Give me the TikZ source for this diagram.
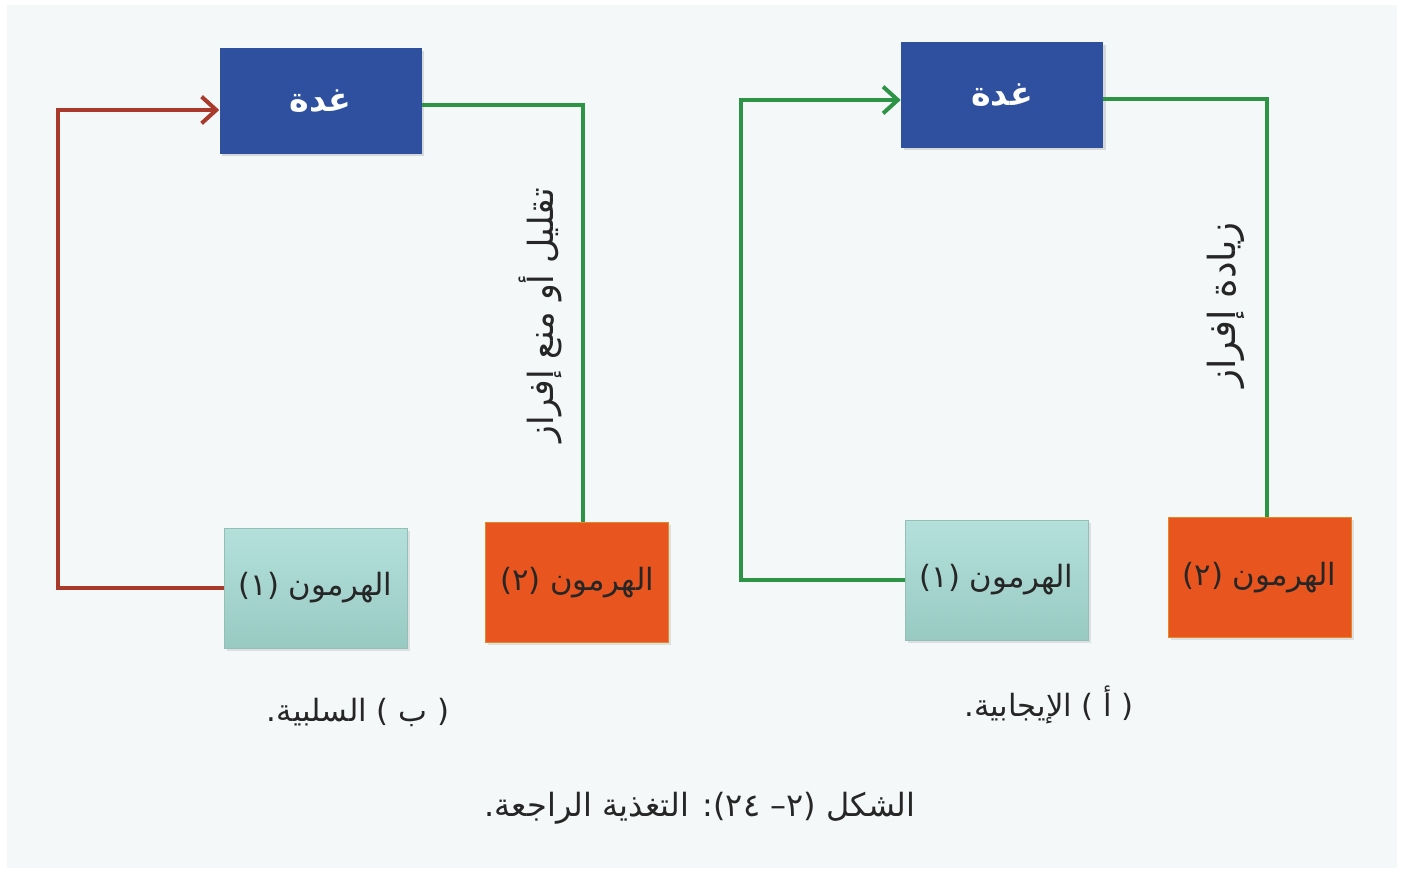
\documentclass[tikz,border=0pt]{standalone}
\usepackage{fontspec}
\TeXXeTstate=1
\newfontfamily\arabicfont[Script=Arabic]{DejaVu Sans}
\usetikzlibrary{arrows.meta,shadows}
\definecolor{paper}{HTML}{F4F8F9}
\definecolor{glandblue}{HTML}{2E509F}
\definecolor{hcyanT}{HTML}{B4E0DC}
\definecolor{hcyanB}{HTML}{98CAC2}
\definecolor{horange}{HTML}{E9551F}
\definecolor{horangeedge}{HTML}{E08A2A}
\definecolor{redline}{HTML}{A9392B}
\definecolor{greenline}{HTML}{2E9445}
\definecolor{txt}{HTML}{262626}
\tikzset{
  gland/.style={rectangle, fill=glandblue, minimum width=151.5pt, minimum height=79pt,
    inner sep=0pt, text=white, font=\arabicfont\bfseries\fontsize{25}{30}\selectfont,
    drop shadow={shadow xshift=2pt, shadow yshift=-2pt, opacity=0.25}},
  hcyan/.style={rectangle, top color=hcyanT, bottom color=hcyanB, draw=hcyanB!85!gray, line width=0.4pt,
    minimum width=137.25pt, minimum height=90pt, inner sep=0pt, text=txt,
    font=\arabicfont\fontsize{23}{28}\selectfont,
    drop shadow={shadow xshift=2pt, shadow yshift=-2pt, opacity=0.2}},
  horng/.style={rectangle, fill=horange, draw=horangeedge, line width=0.6pt,
    minimum width=137.25pt, minimum height=90pt, inner sep=0pt, text=txt,
    font=\arabicfont\fontsize{23}{28}\selectfont,
    drop shadow={shadow xshift=2pt, shadow yshift=-2pt, opacity=0.2}},
  vlabel/.style={rotate=90, text=txt, font=\arabicfont\fontsize{26}{31}\selectfont, inner sep=0pt},
  caption/.style={text=txt, font=\arabicfont\fontsize{23}{28}\selectfont, inner sep=0pt},
  redconn/.style={draw=redline, line width=3pt},
  greenconn/.style={draw=greenline, line width=3pt},
  tip/.style={-{Straight Barb[length=11pt,width=20pt,line width=3pt]}}
}
\begin{document}
\begin{tikzpicture}[x=0.75pt,y=-0.75pt]
\useasboundingbox (0,0) rectangle (1405,872);
\fill[white] (0,0) rectangle (1405,872);
\fill[paper] (7,5) rectangle (1397,868);

% ---------- left panel (negative) ----------
\node[gland] (gL) at (320.5,101) {\beginR غدة\endR};
\node[hcyan] (h1L) at (315.5,588) {\beginR الهرمون (١)\endR};
\node[horng] (h2L) at (577,582.5) {\beginR الهرمون (٢)\endR};
\coordinate (cL1) at (58,588);
\coordinate (cL2) at (58,110);
\coordinate (cL3) at (583,105);
\draw[redconn,tip,line join=miter] (h1L.west) -- (cL1) -- (cL2) -- (gL.west |- cL2);
\draw[greenconn,line join=miter] (gL.east |- cL3) -- (cL3) -- (h2L.north -| cL3);
\node[vlabel] (vL) at (540,315) {\beginR تقليل أو منع إفراز\endR};
\node[caption] (capL) at (358,712) {\beginR ( ب ) السلبية.\endR};

% ---------- right panel (positive) ----------
\node[gland] (gR) at (1002,95) {\beginR غدة\endR};
\node[hcyan] (h1R) at (996.5,580) {\beginR الهرمون (١)\endR};
\node[horng] (h2R) at (1259.5,577.5) {\beginR الهرمون (٢)\endR};
\coordinate (cR1) at (741,580);
\coordinate (cR2) at (741,100);
\coordinate (cR3) at (1267,99);
\draw[greenconn,tip,line join=miter] (h1R.west) -- (cR1) -- (cR2) -- (gR.west |- cR2);
\draw[greenconn,line join=miter] (gR.east |- cR3) -- (cR3) -- (h2R.north -| cR3);
\node[vlabel, font=\arabicfont\fontsize{28}{33}\selectfont] (vR) at (1226,305) {\beginR زيادة إفراز\endR};
\node[caption] (capR) at (1049,705) {\beginR ( أ ) الإيجابية.\endR};

% ---------- figure caption ----------
\node[caption, font=\arabicfont\fontsize{24}{29}\selectfont] (fig) at (700,808) {\beginR الشكل (٢– ٢٤): التغذية الراجعة.\endR};
\end{tikzpicture}
\end{document}
